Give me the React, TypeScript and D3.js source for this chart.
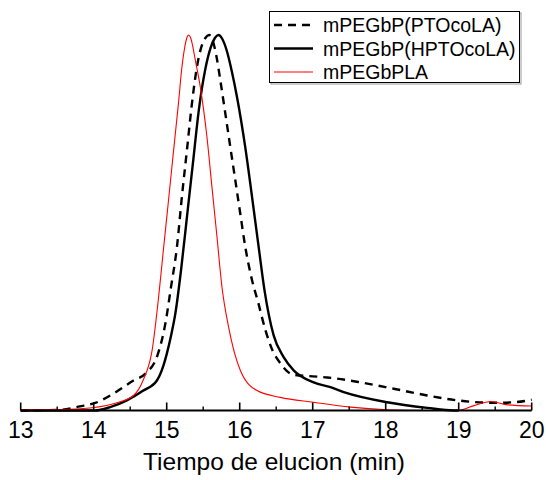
import React from "react";
import * as d3 from "d3";

const xTicks = [13, 14, 15, 16, 17, 18, 19, 20];
const minorTicks = [13.5, 14.5, 15.5, 16.5, 17.5, 18.5, 19.5];
const seriesNames = ["mPEGbP(PTOcoLA)", "mPEGbP(HPTOcoLA)", "mPEGbPLA"];
const xTitle = "Tiempo de elucion (min)";

// mPEGbP(PTOcoLA) - dashed
const ptoT = [13, 13.54, 13.81, 14.02, 14.27, 14.545, 14.72, 14.87, 14.98, 15.06, 15.14, 15.208, 15.277, 15.346, 15.414, 15.47, 15.53, 15.58, 15.63, 15.68, 15.734, 15.803, 15.871, 15.94, 16.008, 16.077, 16.169, 16.25, 16.351, 16.45, 16.56, 16.66, 16.75, 17.0, 17.2, 17.654, 18.11, 18.57, 18.98, 19.48, 19.757, 20];
const ptoV = [0, 0.002, 0.011, 0.02, 0.045, 0.08, 0.1, 0.145, 0.23, 0.33, 0.435, 0.569, 0.693, 0.818, 0.915, 0.965, 0.992, 1.0, 0.985, 0.945, 0.88, 0.791, 0.702, 0.613, 0.524, 0.435, 0.347, 0.29, 0.215, 0.16, 0.125, 0.103, 0.095, 0.091, 0.088, 0.075, 0.058, 0.04, 0.027, 0.0205, 0.022, 0.0285];

// mPEGbP(HPTOcoLA) - solid black
const hptoT = [13, 14.02, 14.225, 14.454, 14.68, 14.866, 14.956, 15.0, 15.06, 15.12, 15.2, 15.28, 15.36, 15.44, 15.53, 15.6, 15.66, 15.71, 15.76, 15.82, 15.89, 15.963, 16.077, 16.169, 16.26, 16.34, 16.465, 16.602, 16.739, 17.014, 17.243, 17.425, 18.02, 18.57, 18.93, 19.0];
const hptoV = [0, 0, 0.009, 0.027, 0.053, 0.08, 0.12, 0.15, 0.2, 0.26, 0.38, 0.52, 0.66, 0.8, 0.91, 0.965, 0.992, 1.0, 0.99, 0.96, 0.905, 0.835, 0.7, 0.569, 0.435, 0.32, 0.2, 0.142, 0.107, 0.075, 0.062, 0.049, 0.022, 0.007, 0, 0];

// mPEGbPLA - red
const plaT = [13, 13.4, 13.81, 14.27, 14.545, 14.68, 14.8, 14.888, 14.956, 15.025, 15.093, 15.162, 15.206, 15.245, 15.275, 15.3, 15.325, 15.355, 15.39, 15.46, 15.551, 15.62, 15.689, 15.757, 15.848, 16.008, 16.237, 16.557, 17.01, 17.52, 18.02, 18.48, 18.98, 19.21, 19.44, 19.67, 20];
const plaV = [0.001, 0.002, 0.0045, 0.018, 0.04, 0.082, 0.16, 0.3, 0.43, 0.56, 0.69, 0.82, 0.91, 0.965, 0.992, 1.0, 0.994, 0.972, 0.935, 0.862, 0.729, 0.595, 0.462, 0.329, 0.222, 0.107, 0.053, 0.035, 0.022, 0.009, 0.002, 0, 0, 0.013, 0.024, 0.015, 0.012];

const FONT = "'Liberation Sans', Arial, Helvetica, sans-serif";

export default function App() {
  const W = 546, H = 480;
  const x = d3.scaleLinear().domain([13, 20]).range([20.7, 531.7]);
  const y = d3.scaleLinear().domain([0, 1]).range([410.5, 35]);
  const line = d3
    .line<[number, number]>()
    .x((d) => x(d[0]))
    .y((d) => y(d[1]))
    .curve(d3.curveMonotoneX);

  const zip = (t: number[], v: number[]) => t.map((tt, i) => [tt, v[i]] as [number, number]);
  const series = [
    { name: seriesNames[0], d: line(zip(ptoT, ptoV)) || "", stroke: "#000", w: 2.4, dash: "8,6" },
    { name: seriesNames[1], d: line(zip(hptoT, hptoV)) || "", stroke: "#000", w: 2.4, dash: undefined },
    { name: seriesNames[2], d: line(zip(plaT, plaV)) || "", stroke: "#ff0000", w: 1.1, dash: undefined },
  ];

  const axisY = y(0);
  const lg = { x: 269.5, y: 11.5, w: 250, h: 71 };

  return (
    <svg
      width={W}
      height={H}
      style={{ position: "absolute", left: 0, top: 0, background: "#fff" }}
      fontFamily={FONT}
    >
      <rect x={0} y={0} width={W} height={H} fill="#fff" />
      {series.map((s) => (
        <path
          key={s.name}
          d={s.d}
          fill="none"
          stroke={s.stroke}
          strokeWidth={s.w}
          strokeDasharray={s.dash}
          strokeLinejoin="round"
        />
      ))}
      {/* x axis */}
      <line x1={x(13)} x2={x(20)} y1={axisY} y2={axisY} stroke="#000" strokeWidth={2} />
      {xTicks.map((t) => (
        <g key={t}>
          <line x1={x(t)} x2={x(t)} y1={axisY} y2={axisY - 8} stroke="#000" strokeWidth={1.6} />
          <text x={x(t)} y={438} textAnchor="middle" fontSize={23} fill="#000">
            {t}
          </text>
        </g>
      ))}
      {minorTicks.map((t) => (
        <line key={t} x1={x(t)} x2={x(t)} y1={axisY} y2={axisY - 4} stroke="#000" strokeWidth={1.4} />
      ))}
      <text x={274} y={469.5} textAnchor="middle" fontSize={24.5} fill="#000">
        {xTitle}
      </text>
      {/* legend */}
      <rect x={lg.x + 1.5} y={lg.y + 1.5} width={lg.w} height={lg.h} fill="none" stroke="#999" strokeWidth={1} />
      <rect x={lg.x} y={lg.y} width={lg.w} height={lg.h} fill="#fff" stroke="#000" strokeWidth={1} />
      {series.map((s, i) => {
        const cy = 25 + i * 23.5;
        return (
          <g key={s.name}>
            <line
              x1={274}
              x2={313}
              y1={cy}
              y2={cy}
              stroke={s.stroke}
              strokeWidth={s.w}
              strokeDasharray={s.dash}
            />
            <text x={323} y={cy + 7} fontSize={19.5} fill="#000">
              {s.name}
            </text>
          </g>
        );
      })}
    </svg>
  );
}
